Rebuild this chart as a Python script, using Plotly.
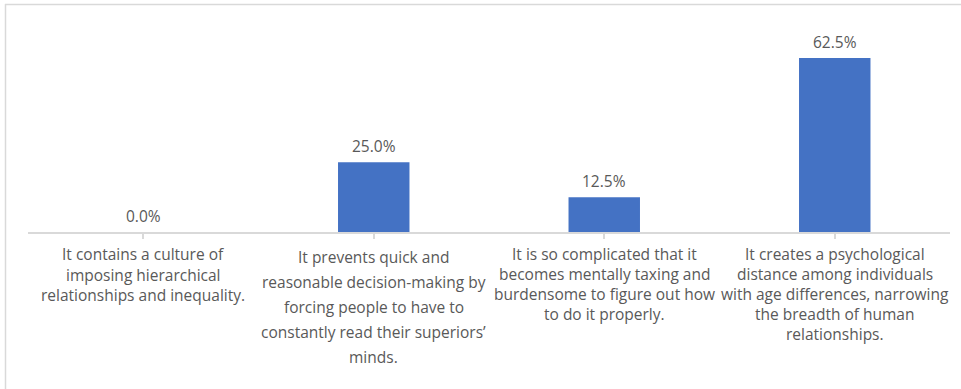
import plotly.graph_objects as go

# Survey responses: share of respondents choosing each reason (%)
category_lines = [
    ["It contains a culture of", "imposing hierarchical", "relationships and inequality."],
    ["It prevents quick and", "reasonable decision-making by", "forcing people to have to",
     "constantly read their superiors’", "minds."],
    ["It is so complicated that it", "becomes mentally taxing and",
     "burdensome to figure out how", "to do it properly."],
    ["It creates a psychological", "distance among individuals",
     "with age differences, narrowing", "the breadth of human", "relationships."],
]
categories = [" ".join(lines) for lines in category_lines]
values = [0.0, 25.0, 12.5, 62.5]

W, H = 961, 389
ML, MR, MT = 28, 11, 10
BASE_Y = 232  # pixel row of the category axis
MB = H - BASE_Y
PLOT_H = BASE_Y - MT
Y_MAX = 79.7

TEXT_COLOR = "#595959"
GRID_COLOR = "#d9d9d9"
FONT = "Open Sans"
FONT_SIZE = 15.5

fig = go.Figure(
    go.Bar(
        x=list(range(len(categories))),
        y=values,
        marker=dict(color="#4472c4", line=dict(width=0)),
        hovertext=categories,
        hoverinfo="text+y",
    )
)

annotations = []
# value labels above each bar
for i, v in enumerate(values):
    annotations.append(dict(
        x=i, y=v, xref="x", yref="y", text=f"{v:.1f}%", showarrow=False,
        yanchor="middle", yshift=16,
        font=dict(family=FONT, size=FONT_SIZE, color=TEXT_COLOR),
    ))

# wrapped category labels below the axis
line_layout = [(254, 20.5), (257, 25.0), (254, 20.0), (254, 20.0)]
for i, lines in enumerate(category_lines):
    y0, step = line_layout[i]
    for k, line in enumerate(lines):
        ypix = y0 + k * step
        annotations.append(dict(
            x=i, y=(BASE_Y - ypix) / PLOT_H, xref="x", yref="paper",
            text=line, showarrow=False, xanchor="center", yanchor="middle",
            font=dict(family=FONT, size=FONT_SIZE, color=TEXT_COLOR),
        ))

# chart frame (top and left edges)
def px_x(p):
    return (p - ML) / (W - ML - MR)

def px_y(p):
    return (H - MB - p) / PLOT_H

shapes = [
    dict(type="line", xref="paper", yref="paper",
         x0=px_x(5), x1=px_x(961), y0=px_y(4.5), y1=px_y(4.5),
         line=dict(color=GRID_COLOR, width=1.5)),
    dict(type="line", xref="paper", yref="paper",
         x0=px_x(5.5), x1=px_x(5.5), y0=px_y(4), y1=px_y(389),
         line=dict(color=GRID_COLOR, width=1.5)),
]

fig.update_layout(
    width=W, height=H,
    margin=dict(l=ML, r=MR, t=MT, b=MB, pad=0),
    paper_bgcolor="white", plot_bgcolor="white",
    bargap=0.69,
    showlegend=False,
    annotations=annotations,
    shapes=shapes,
    font=dict(family=FONT, size=FONT_SIZE, color=TEXT_COLOR),
    xaxis=dict(
        range=[-0.5, len(categories) - 0.5],
        tickmode="array", tickvals=list(range(len(categories))),
        showticklabels=False, showgrid=False, zeroline=False,
        showline=True, linecolor=GRID_COLOR, linewidth=1.5,
        ticks="outside", tickson="boundaries", ticklen=5,
        tickcolor=GRID_COLOR, tickwidth=1.5,
    ),
    yaxis=dict(
        range=[0, Y_MAX], visible=False, showgrid=False, zeroline=False,
    ),
)

fig.write_html("out.html")
